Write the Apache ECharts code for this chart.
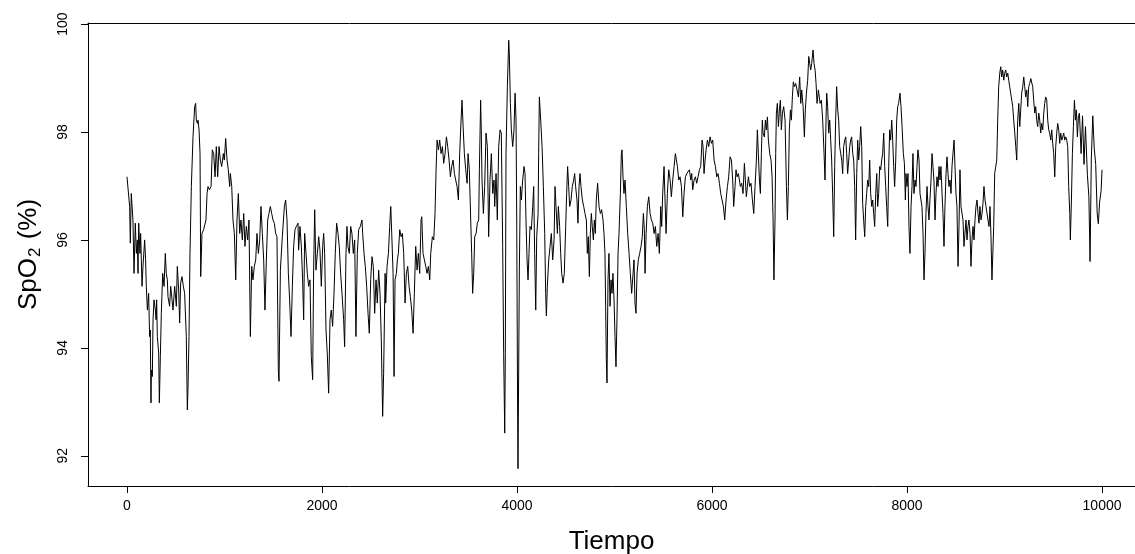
<!DOCTYPE html>
<html><head><meta charset="utf-8">
<script src="https://cdn.jsdelivr.net/npm/echarts@6/dist/echarts.min.js"></script>
<style>html,body{margin:0;padding:0;background:#fff}#c{width:1135px;height:554px}</style>
</head><body><div id="c"></div>
<script>
const tiempo = [
0,27,34,44,61,72,85,96,106,113,
120,133,140,154,164,181,191,198,209,222,
232,239,246,250,260,267,277,291,298,304,
311,325,332,342,352,366,380,393,403,414,
420,437,448,462,472,489,506,516,530,540,
550,564,578,591,608,619,626,636,646,660,
677,694,704,711,722,728,739,749,756,769,
786,797,810,821,831,845,
862,875,889,903,916,930,944,957,971,988,
998,1012,1026,1039,1053,1060,1074,1087,1101,1115,
1128,1142,1156,1169,1183,1197,1210,1224,1238,1251,
1265,1279,1292,1306,1320,1333,1347,1361,1374,1388,
1402,1415,1429,1443,1456,1470,1484,1497,1511,1525,
1538,1552,1559,1573,1593,1614,1627,1641,1655,1668,
1682,1696,1709,1723,1737,
1754,1760,1774,1788,1801,1812,1822,1836,1849,1863,
1877,1890,1904,1914,1925,1938,1952,1966,1979,1993,
2007,2017,2027,2041,2054,2068,2082,2095,2109,2123,
2136,2150,2164,2177,2191,2205,2222,2232,2246,2256,
2266,2280,2294,2307,2321,2335,2348,2362,2376,2393,
2410,2417,2431,2444,2458,2472,2485,2499,2513,2526,
2540,2554,2567,2581,2595,2608,2622,2632,
2647,2653,2667,2681,2694,2705,2715,2729,2739,2749,
2763,2773,2783,2797,2811,2824,2838,2852,2865,2879,
2893,2906,2920,2934,2947,2961,2975,2988,3002,3016,
3023,3036,3050,3064,3077,3091,3105,3115,3132,3146,
3159,3170,3180,3194,3207,3221,3235,3248,3262,3276,
3289,3303,3317,3330,3344,3358,3371,3385,3399,3412,
3426,3436,3447,3460,3474,3488,
3498,3511,3525,3535,3545,3556,3566,3580,3593,3607,
3614,3627,3634,3641,3655,3668,3682,3696,3709,3723,
3737,3751,3764,3771,3785,3798,3812,3826,3839,3853,
3863,3874,3880,3887,3901,3915,3921,3932,3942,3956,
3969,3980,3990,3997,4004,4010,4017,4024,4034,4045,
4058,4072,4082,4092,4103,4113,4123,4133,4147,4161,
4171,4181,4192,4202,4216,4222,4229,4243,4257,4270,
4284,4294,4301,4311,4325,4339,4352,4366,4380,4390,
4400,4414,
4424,4437,4448,4458,4472,4485,4499,4509,4519,4530,
4540,4554,4567,4581,4591,4601,4615,4625,4636,4646,
4656,4670,4684,4697,4711,4721,4731,4742,4752,4762,
4772,4783,4793,4803,4813,4827,4841,4855,4868,4882,
4892,4902,4909,4916,4923,4933,4943,4954,4964,4974,
4984,4995,5005,5015,5025,5036,5046,5060,5070,5077,
5087,5097,5108,5121,5135,5149,5162,5176,5190,5200,
5210,5220,5231,5244,5258,5272,5285,5296,5306,
5313,5324,5337,5351,5365,5378,5392,5406,5419,5433,
5447,5460,5474,5484,5494,5508,5518,5529,5542,5556,
5570,5583,5597,5611,5624,5635,5645,5659,5672,5686,
5700,5713,5727,5741,5754,5768,5782,5792,5802,5816,
5830,5843,5857,5871,5884,5898,5908,5918,5929,5939,
5953,5966,5980,5994,6007,6021,6035,6048,6062,6076,
6089,6103,6117,6130,6144,6158,6171,6185,6199,
6212,6222,6236,6246,6257,6270,6281,6291,6304,6318,
6332,6342,6352,6363,6373,6386,6400,6414,6428,6441,
6455,6465,6475,6486,6496,6506,6516,6523,6537,6547,
6557,6568,6578,6592,6605,6616,6626,6635,6646,6653,
6660,6670,6681,6691,6701,6711,6722,6735,6749,6763,
6773,6783,6793,6804,6814,6824,6834,6845,6858,6872,
6886,6899,6910,6920,6934,6947,6957,6968,6981,6992,
7002,7012,7022,7036,7046,7057,7067,7077,7091,
7097,7108,7121,7135,7149,7159,7169,7176,7186,7196,
7207,7217,7227,7237,7248,7258,7268,7278,7289,7299,
7309,7320,7330,7340,7350,7361,7371,7381,7391,7402,
7412,7422,7432,7443,7453,7463,7473,7484,7494,7504,
7514,7525,7535,7545,7555,7566,7576,7586,7596,7607,
7617,7627,7638,7648,7658,7668,7679,7689,7699,7709,
7720,7730,7740,7750,7761,7771,7781,7791,7802,7812,
7822,7832,7843,7853,7863,7873,7884,7894,7904,7914,
7928,7938,7949,7962,7973,7983,
7989,8000,8010,8020,8030,8041,8051,8061,8071,8082,
8092,8102,8112,8123,8133,8143,8153,8164,8174,8184,
8194,8205,8215,8225,8235,8246,8256,8266,8276,8287,
8297,8307,8318,8328,8338,8348,8359,8369,8379,8389,
8400,8410,8420,8430,8441,8451,8461,8471,8482,8492,
8502,8512,8523,8533,8543,8553,8564,8574,8584,8594,
8605,8615,8625,8635,8646,8656,8666,8677,8687,8697,
8707,8718,8728,8738,8748,8759,8769,8779,8789,8800,
8810,8820,8830,8841,8851,8861,8871,
8889,8899,8910,8920,8930,8940,8951,8961,8971,8981,
8992,9002,9012,9022,9033,9043,9053,9063,9074,9084,
9094,9105,9115,9125,9135,9146,9156,9166,9176,9187,
9197,9207,9217,9228,9238,9248,9258,9269,9279,9289,
9299,9310,9320,9330,9340,9351,9361,9371,9381,9392,
9402,9412,9422,9433,9443,9453,9463,9474,9484,9494,
9504,9515,9525,9535,9545,9556,9566,9576,9587,9597,
9607,9617,9628,9638,9648,9658,9669,9675,9686,9696,
9706,9717,9727,9737,9747,9758,9768,
9785,9800,9815,9830,9850,9865,9877,9890,9905,9920,
9935,9950,9962,9975,9990,10000
];
const spo2 = [
97.17,96.62,95.94,96.86,96.37,95.38,96.31,95.75,96.00,95.38,
96.31,95.75,96.12,95.14,95.51,96.00,95.63,95.14,94.70,95.01,
94.21,94.33,92.98,93.59,93.47,94.52,94.89,94.70,94.52,94.89,
94.21,93.90,92.98,93.84,94.64,95.38,95.14,95.75,95.38,95.26,
94.95,94.77,95.14,94.89,94.70,95.14,94.77,95.51,95.07,94.46,
95.20,95.32,95.14,95.01,94.21,92.85,93.28,94.21,95.75,96.99,
97.91,98.47,98.53,98.22,98.16,98.22,98.04,97.60,95.32,96.12,
96.19,96.19,96.37,96.86,96.99,96.93,
96.99,97.67,97.60,97.17,97.73,97.17,97.73,97.48,97.36,97.60,
97.48,97.88,97.48,97.30,96.99,97.23,96.99,96.37,96.12,95.26,
96.37,96.86,96.12,96.37,96.00,96.49,95.88,96.25,96.00,96.37,
94.21,95.51,95.26,95.51,95.63,96.12,95.75,96.00,96.62,96.12,
95.63,94.70,95.63,96.37,96.49,96.62,96.49,96.37,96.31,96.12,
96.06,93.59,93.38,95.44,96.06,96.62,96.74,96.37,95.38,94.89,
94.21,95.14,95.88,96.19,96.25,
96.31,95.81,96.25,95.88,95.26,94.52,96.12,95.75,95.38,95.14,
95.26,93.84,93.41,95.44,96.56,95.44,95.75,96.06,95.81,95.14,
95.88,96.12,95.75,94.33,93.90,93.16,94.52,94.70,94.40,95.01,
95.75,96.31,96.12,95.88,95.38,95.01,94.52,94.02,95.75,96.25,
95.88,95.75,96.25,96.12,95.75,96.00,94.21,95.75,96.19,96.25,
96.37,96.12,95.75,95.51,95.14,94.64,94.27,95.26,95.69,95.51,
94.64,95.26,94.83,95.44,95.01,94.15,92.73,93.53,
95.38,94.83,95.51,95.75,96.25,96.62,96.12,95.38,93.47,95.26,
95.38,95.63,95.75,96.19,96.06,96.12,95.75,94.83,95.38,95.51,
95.14,94.95,94.70,94.27,95.01,95.88,95.44,95.75,95.38,96.37,
96.43,95.75,95.63,95.51,95.38,95.51,95.26,95.75,96.06,96.00,
96.49,97.30,97.85,97.67,97.85,97.60,97.73,97.42,97.60,97.91,
97.73,97.48,97.17,97.36,97.48,97.23,97.11,96.99,96.74,97.60,
98.22,98.59,98.10,97.60,97.30,97.05,
97.60,97.30,96.37,95.75,95.01,95.38,96.06,96.12,96.31,96.37,
97.30,98.59,97.98,97.11,96.49,96.99,97.98,97.73,96.06,97.11,
97.60,96.86,97.11,96.62,97.23,96.37,97.73,98.04,97.98,95.88,
93.90,92.42,93.90,97.60,98.84,99.70,99.46,98.53,98.04,97.73,
98.04,98.72,98.22,96.37,93.59,91.76,93.59,95.44,96.99,96.74,
97.11,97.36,97.23,96.37,95.63,95.26,95.75,96.25,96.19,96.62,
96.99,95.75,94.70,96.06,96.49,97.60,98.65,98.22,97.73,96.99,
96.12,95.01,94.59,95.14,95.63,95.88,96.12,95.63,96.00,96.99,
96.62,96.12,
96.62,96.25,95.75,95.38,95.20,95.38,96.25,96.86,97.36,96.99,
96.62,96.74,96.99,97.11,97.23,96.99,96.74,96.31,96.99,97.23,
96.99,96.74,96.62,96.49,96.37,95.75,96.06,95.32,96.12,96.49,
96.25,96.00,96.37,96.12,96.74,97.05,96.62,96.49,96.56,96.37,
96.12,95.75,94.77,93.78,93.35,95.26,95.75,94.77,95.26,95.01,
95.38,94.89,94.21,93.65,94.52,95.75,96.12,96.86,97.60,97.67,
97.17,96.86,97.11,96.62,96.12,95.75,95.38,95.01,95.38,95.63,
94.83,94.64,95.38,95.63,95.75,95.88,96.06,96.49,96.19,
95.38,96.12,96.62,96.80,96.49,96.37,96.31,96.12,96.25,95.88,
96.12,95.75,96.62,96.25,96.86,97.36,96.74,96.12,96.86,97.30,
97.11,96.80,97.11,97.36,97.60,97.60,97.36,97.11,97.17,96.99,
96.43,96.86,97.17,97.23,97.23,97.30,97.11,97.23,96.93,97.11,
97.17,97.05,97.17,97.30,97.36,97.85,97.73,97.23,97.48,97.67,
97.85,97.73,97.91,97.79,97.85,97.48,97.36,97.17,97.23,97.05,
96.86,96.74,96.62,96.37,96.74,96.99,97.17,97.54,97.48,
97.11,96.62,96.99,97.30,97.17,97.23,97.11,96.99,97.05,96.86,
97.42,97.11,96.80,96.99,97.17,96.99,97.05,96.74,96.49,96.99,
97.48,98.04,97.60,97.11,96.86,97.60,98.22,97.98,97.91,98.22,
98.04,98.28,97.85,97.60,97.48,97.17,96.37,95.26,96.37,97.60,
98.35,98.53,98.10,98.41,98.59,98.04,98.35,98.47,98.22,96.99,
96.37,96.99,98.04,98.41,98.22,98.65,98.93,98.84,98.90,98.78,
98.65,99.02,98.53,98.78,98.47,97.91,98.41,98.72,98.96,99.40,
99.27,99.15,99.27,99.52,99.27,99.15,98.90,98.53,98.78,
98.78,98.53,98.59,98.22,97.60,97.11,98.22,98.72,98.47,97.98,
98.22,97.85,97.48,96.86,96.06,97.36,98.22,98.84,98.41,98.22,
97.73,97.60,97.48,97.23,97.73,97.85,97.91,97.60,97.23,97.48,
97.73,97.85,97.91,97.60,97.48,96.99,96.00,97.23,97.85,97.48,
97.73,98.10,97.73,96.68,96.37,96.06,96.62,96.86,97.11,96.99,
97.48,96.86,96.62,96.74,96.49,96.25,96.86,97.23,96.62,96.86,
97.36,97.30,97.48,97.60,97.98,97.36,96.99,96.62,96.25,97.36,
98.04,97.85,98.22,97.85,97.36,96.99,97.48,98.22,98.47,98.53,
98.72,98.47,98.10,97.60,97.42,96.74,
97.23,96.99,97.23,96.25,95.75,96.62,96.99,97.60,96.86,97.11,
96.99,97.36,97.67,97.48,96.86,96.74,96.62,96.12,95.26,95.75,
96.49,96.99,96.62,96.37,96.74,97.11,97.60,97.36,97.11,96.37,
96.86,97.17,96.99,97.36,97.11,97.36,96.86,96.49,95.88,96.62,
97.23,97.54,97.23,96.99,97.11,96.86,97.36,97.60,97.85,97.36,
96.86,96.62,95.51,96.25,97.30,96.62,96.62,96.37,95.88,96.12,
96.37,96.00,96.25,96.37,96.12,95.51,96.00,96.25,96.00,96.37,
96.62,96.74,96.49,96.31,96.62,96.37,96.49,96.68,96.99,96.74,
96.62,96.62,96.37,96.25,96.62,96.06,95.26,
96.25,97.23,97.36,97.48,98.22,98.84,99.09,99.21,99.02,99.15,
98.96,99.09,99.15,99.02,99.09,98.96,98.84,98.72,98.59,98.47,
98.22,97.98,97.73,97.48,98.22,98.53,98.10,98.41,98.72,98.84,
99.02,98.84,98.65,98.78,98.47,98.84,98.90,98.99,99.02,98.84,
98.59,98.35,98.47,98.22,98.10,98.35,98.22,97.98,98.16,98.04,
98.35,98.53,98.65,98.59,98.22,98.04,97.98,97.85,98.04,97.79,
97.60,97.17,97.73,97.98,98.16,98.04,97.79,97.98,97.85,97.91,
97.98,97.85,97.91,97.85,97.73,96.99,96.49,96.00,96.74,97.60,
98.10,98.59,98.22,98.41,97.91,98.29,98.35,
97.6,98.3,97.4,98.1,97.2,96.8,95.6,97.5,98.3,97.7,
97.4,96.5,96.3,96.7,96.9,97.3
];
const xTicks = [0, 2000, 4000, 6000, 8000, 10000];
const yTicks = [92, 94, 96, 98, 100];

if (tiempo.length !== spo2.length) throw new Error('length mismatch ' + tiempo.length + ' vs ' + spo2.length);

const FONT = '"Liberation Sans", Arial, Helvetica, sans-serif';
const data = tiempo.map((t, i) => [t, spo2[i]]);
const XMIN = -400, XMAX = 10338, YMIN = 91.44, YMAX = 100.02;
const axisLineStyle = {color: '#000', width: 1};
const tickOnly = {show: true, inside: false, length: 7, lineStyle: {color: '#000', width: 1}};

const chart = echarts.init(document.getElementById('c'));
chart.setOption({
  animation: false,
  backgroundColor: '#fff',
  grid: {left: 88, top: 23, right: 0, bottom: 68, outerBoundsMode: 'none'},
  xAxis: [{
    type: 'value', min: XMIN, max: XMAX,
    axisLine: {show: true, onZero: false, lineStyle: axisLineStyle}, splitLine: {show: false},
    axisTick: {show: false},
    axisLabel: {customValues: xTicks, margin: 13, color: '#000', fontSize: 14, fontFamily: FONT,
      formatter: v => String(v)},
    name: 'Tiempo', nameLocation: 'middle', nameGap: 43,
    nameTextStyle: {fontSize: 26, color: '#000', fontFamily: FONT}
  }, {
    type: 'value', min: XMIN, max: XMAX, position: 'top',
    axisLine: {show: true, onZero: false, lineStyle: axisLineStyle},
    axisTick: {show: false}, axisLabel: {show: false}, splitLine: {show: false}
  }, {
    type: 'value', min: XMIN, max: XMAX, position: 'bottom',
    axisLine: {show: false, onZero: false}, splitLine: {show: false},
    axisTick: Object.assign({customValues: xTicks}, tickOnly),
    axisLabel: {show: false}
  }],
  yAxis: [{
    type: 'value', min: YMIN, max: YMAX,
    axisLine: {show: true, onZero: false, lineStyle: axisLineStyle}, splitLine: {show: false},
    axisTick: {show: false},
    axisLabel: {customValues: yTicks, rotate: 90, margin: 18, color: '#000', fontSize: 14, fontFamily: FONT,
      formatter: v => String(v)},
    name: '{a|SpO}{b|2}{a| (%)}', nameLocation: 'middle', nameRotate: 90, nameGap: 44,
    nameTextStyle: {
      color: '#000', fontFamily: FONT, fontSize: 26,
      rich: {
        a: {fontSize: 26, fontFamily: FONT, color: '#000', verticalAlign: 'top', lineHeight: 28},
        b: {fontSize: 17, fontFamily: FONT, color: '#000', verticalAlign: 'bottom', lineHeight: 18, padding: [14, 1, 0, 1]}
      }
    }
  }, {
    type: 'value', min: YMIN, max: YMAX, position: 'left',
    axisLine: {show: false, onZero: false}, splitLine: {show: false},
    axisTick: Object.assign({customValues: yTicks}, tickOnly),
    axisLabel: {show: false}
  }],
  series: [{
    type: 'line', data: data, showSymbol: false, symbol: 'none', xAxisIndex: 0, yAxisIndex: 0,
    lineStyle: {color: '#000', width: 1}, silent: true
  }]
});
</script>
</body></html>
